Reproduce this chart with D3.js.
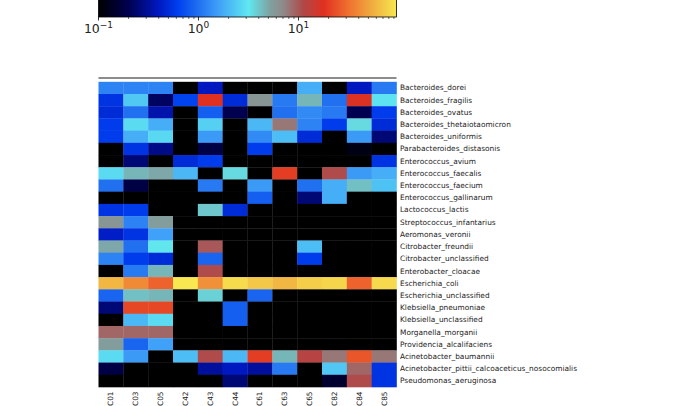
<!DOCTYPE html>
<html>
<head>
<meta charset="utf-8">
<script src="https://cdn.jsdelivr.net/npm/d3@7"></script>
<style>
  html, body { margin: 0; padding: 0; background: #fff; }
  svg { display: block; font-family: "DejaVu Sans", sans-serif; }
</style>
</head>
<body>
<script>
const columns = ["C01","C03","C05","C42","C43","C44","C61","C63","C65","C82","C84","C85"];
const species = [
  "Bacteroides_dorei","Bacteroides_fragilis","Bacteroides_ovatus","Bacteroides_thetaiotaomicron",
  "Bacteroides_uniformis","Parabacteroides_distasonis","Enterococcus_avium","Enterococcus_faecalis",
  "Enterococcus_faecium","Enterococcus_gallinarum","Lactococcus_lactis","Streptococcus_infantarius",
  "Aeromonas_veronii","Citrobacter_freundii","Citrobacter_unclassified","Enterobacter_cloacae",
  "Escherichia_coli","Escherichia_unclassified","Klebsiella_pneumoniae","Klebsiella_unclassified",
  "Morganella_morganii","Providencia_alcalifaciens","Acinetobacter_baumannii",
  "Acinetobacter_pittii_calcoaceticus_nosocomialis","Pseudomonas_aeruginosa"
];
// relative abundance per species (rows) x sample (columns); 0 = absent
const values = [
  [1.2, 1.2, 1.2, 0, 0.4, 0, 0, 0, 1.8, 0, 0.4, 1.1],
  [0.55, 2.3, 0.22, 0.65, 18, 0.5, 6, 1.1, 4.5, 1.0, 17, 3],
  [0.5, 1.0, 0.35, 0, 0.85, 0.2, 0, 1.0, 1.3, 1.1, 0.2, 0.6],
  [0.6, 2.8, 1.8, 0, 2.5, 0, 2, 8, 1.2, 0.6, 3.5, 0.5],
  [0.6, 1.8, 2.7, 0, 1.5, 0, 1.3, 2.1, 0.5, 0, 1.5, 0.25],
  [0, 0.55, 0.28, 0, 0.18, 0, 0.6, 0, 0, 0, 0.12, 0],
  [0, 0.25, 0, 0.5, 0.6, 0, 0, 0, 0, 0, 0, 0.55],
  [2.8, 4.5, 5, 2, 0, 3.5, 0, 20, 0, 11, 1.5, 1.8],
  [1.0, 0.18, 0, 0, 1.1, 0, 1.5, 0, 1.0, 1.8, 4.2, 2.2],
  [0, 0, 0, 0, 0, 0, 0.85, 0, 0.25, 1.8, 0, 0],
  [0.55, 0.6, 0, 0, 4, 0.5, 0, 0, 0, 0, 0, 0],
  [6, 1.2, 5.5, 0, 0, 0, 0, 0, 0, 0, 0, 0],
  [0.42, 0.55, 1.6, 0, 0, 0, 0, 0, 0, 0, 0, 0],
  [5, 1.0, 3.2, 0, 10, 0, 0, 0, 2.1, 0, 0, 0],
  [1.2, 0.6, 0.5, 0, 0.9, 0, 0, 0, 0.6, 0, 0, 0],
  [0, 1.1, 4.5, 0, 11, 0, 0, 0, 0, 0, 0, 0],
  [60, 40, 28, 95, 42, 85, 70, 60, 75, 80, 28, 83],
  [0.9, 4.2, 4.5, 0, 3.7, 0, 0.9, 0, 0, 0, 0, 0],
  [0.25, 22, 22, 0, 0, 0.85, 0, 0, 0, 0, 0, 0],
  [0, 2, 2.8, 0, 0, 0.85, 0, 0, 0, 0, 0, 0],
  [9, 9, 9, 0, 0, 0, 0, 0, 0, 0, 0, 0],
  [5.5, 0.9, 1.6, 0, 0, 0, 0, 0, 0, 0, 0, 0],
  [2.8, 1.5, 0, 2.1, 11, 2, 20, 4.5, 12, 8, 25, 8],
  [0.18, 0, 0, 0, 0.32, 0.4, 0.32, 1.1, 0, 2.3, 9, 0.55],
  [0, 0, 0, 0, 0, 0.25, 0, 0, 0, 0.15, 11, 0.55]
];
const vmin = 0.1, vmax = 95.5;
const majorTicks = [0.1, 1, 10];
const tickExponents = ["\u22121", "0", "1"];
const minorTicks = [0.2,0.3,0.4,0.5,0.6,0.7,0.8,0.9,2,3,4,5,6,7,8,9,20,30,40,50,60,70,80,90];
// colormap stops in log10 space
const stopLogs   = [-1.0, -0.7, -0.4, -0.2, 0.0, 0.2, 0.5, 0.72, 0.85, 1.05, 1.25, 1.5, 1.75, Math.log10(vmax)];
const stopColors = ["#000000","#000050","#0018c0","#0040f0","#2070f0","#40a0f8","#60e8f0","#80a0a0","#908888","#b04848","#e03020","#f07030","#f0b040","#f8e850"];

const svg = d3.select("body").append("svg").attr("width", 680).attr("height", 406);

const cmap = d3.scaleLinear().domain(stopLogs).range(stopColors).interpolate(d3.interpolateRgb).clamp(true);
const colorOf = v => v > 0 ? cmap(Math.log10(Math.max(v, vmin))) : "#000000";

const x = d3.scaleBand().domain(columns).range([98.5, 396.5]);
const y = d3.scaleBand().domain(species).range([81.8, 387]);
const cb = d3.scaleLog().domain([vmin, vmax]).range([98.5, 396.5]);

// colorbar gradient
const defs = svg.append("defs");
const grad = defs.append("linearGradient").attr("id", "cbgrad").attr("x1", "0%").attr("x2", "100%");
const lmin = Math.log10(vmin), lmax = Math.log10(vmax);
stopLogs.forEach((l, i) => {
  grad.append("stop").attr("offset", ((l - lmin) / (lmax - lmin) * 100) + "%").attr("stop-color", stopColors[i]);
});
svg.append("rect")
  .attr("x", cb.range()[0]).attr("y", -1)
  .attr("width", cb.range()[1] - cb.range()[0]).attr("height", 18)
  .attr("fill", "url(#cbgrad)").attr("stroke", "#000").attr("stroke-width", 0.8);

const cbY = 17;
const tg = svg.append("g");
tg.selectAll("line.minor").data(minorTicks).join("line")
  .attr("x1", d => cb(d)).attr("x2", d => cb(d))
  .attr("y1", cbY).attr("y2", cbY + 2)
  .attr("stroke", "#000").attr("stroke-width", 0.6);
tg.selectAll("line.major").data(majorTicks).join("line")
  .attr("x1", d => cb(d)).attr("x2", d => cb(d))
  .attr("y1", cbY).attr("y2", cbY + 3.5)
  .attr("stroke", "#000").attr("stroke-width", 0.8);
const lab = tg.selectAll("text").data(majorTicks).join("text")
  .attr("x", d => cb(d)).attr("y", 33)
  .attr("text-anchor", "middle")
  .attr("font-size", 12.5).attr("fill", "#222");
lab.append("tspan").text("10");
lab.append("tspan").attr("dy", -5).attr("font-size", 9).text((d, i) => tickExponents[i]);

// top line (collapsed dendrogram)
svg.append("line")
  .attr("x1", x.range()[0]).attr("x2", x.range()[1])
  .attr("y1", 78).attr("y2", 78)
  .attr("stroke", "#8c8c8c").attr("stroke-width", 1.8);

// heatmap cells
const cells = [];
species.forEach((s, i) => columns.forEach((c, j) => cells.push({s, c, v: values[i][j]})));
svg.append("g").selectAll("rect").data(cells).join("rect")
  .attr("x", d => x(d.c)).attr("y", d => y(d.s))
  .attr("width", x.bandwidth() + 0.3).attr("height", y.bandwidth() + 0.3)
  .attr("fill", d => colorOf(d.v));

// row labels
svg.append("g").selectAll("text").data(species).join("text")
  .attr("x", x.range()[1] + 3.5)
  .attr("y", d => y(d) + y.bandwidth() / 2)
  .attr("dominant-baseline", "central")
  .attr("font-size", 7.4).attr("fill", "#222")
  .text(d => d);

// column labels
svg.append("g").selectAll("text").data(columns).join("text")
  .attr("transform", d => `translate(${x(d) + x.bandwidth() / 2},${y.range()[1] + 4.5}) rotate(-90)`)
  .attr("text-anchor", "end")
  .attr("dominant-baseline", "central")
  .attr("font-size", 7.3).attr("fill", "#222")
  .text(d => d);
</script>
</body>
</html>
